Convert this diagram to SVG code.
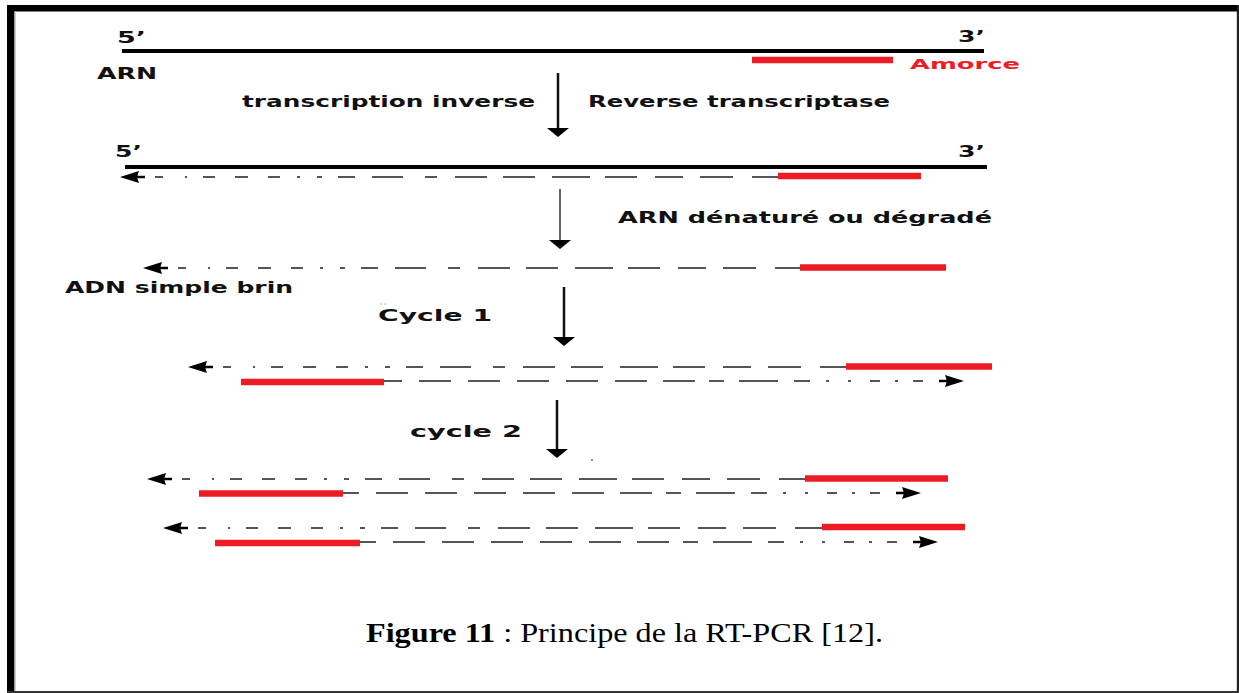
<svg xmlns="http://www.w3.org/2000/svg" width="1239" height="693" viewBox="0 0 1239 693">
  <style>
    .lbl { font-family: "DejaVu Sans", Verdana, sans-serif; font-weight: bold; font-size: 15px; fill: #111; }
    .end { font-family: "DejaVu Sans", Verdana, sans-serif; font-weight: bold; font-size: 15px; fill: #111; }
    .amorce { font-family: "DejaVu Sans", Verdana, sans-serif; font-weight: bold; font-size: 14px; fill: #ee1c24; }
    .cap { font-family: "Liberation Serif", "Times New Roman", serif; font-size: 27px; fill: #000; }
    .strand { stroke: #000; stroke-width: 4; fill: none; }
    .primer { stroke: #ed1c24; stroke-width: 6.5; fill: none; }
    .dashL { stroke: #555; stroke-width: 2; fill: none;
      stroke-dasharray: 8 22 2 16 12 20 13 20 12 17 3 17 5 16 17 17 31 22 12 18 32 16 32 17 38 15 32 18 28 17 33 19 33 17 32 17 32 17; }
    .dashR { stroke: #555; stroke-width: 2; fill: none;
      stroke-dasharray: 10 15 3 15 10 19 3 19 3 16 16 16 39 15 15 14 32 16 32 17 32 17 32 17 32 17 32 17 32 17 32 17 32 17 32 17 32 17 32 17; }
    .shaft { stroke: #111; stroke-width: 2.5; fill: none; }
    .shaftGrey { stroke: #666; stroke-width: 2; fill: none; }
  </style>
  <defs>
    <!-- arrowheads for the dashed strands, tip at origin -->
    <path id="headL" d="M0,0 L19,-6 L17,0 L19,6 Z M16,-1.2 H25 V1.2 H16 Z" fill="#000"/>
    <path id="headR" d="M0,0 L-19,-6 L-17,0 L-19,6 Z M-16,-1.2 H-25 V1.2 H-16 Z" fill="#000"/>
    <!-- arrowhead for the vertical step arrows, tip at origin -->
    <path id="headDown" d="M0,0 L-11,-9 L11,-9 Z" fill="#000"/>
  </defs>

  <!-- page frame -->
  <g id="frame">
    <rect x="0" y="0" width="1239" height="693" fill="#fff"/>
    <rect x="7" y="5" width="1232" height="6.5" fill="#000"/>
    <rect x="7" y="5" width="7.5" height="688" fill="#000"/>
    <rect x="14.5" y="11" width="1.2" height="682" fill="#bbb"/>
    <rect x="1236.8" y="5" width="2.2" height="688" fill="#222"/>
    <rect x="7" y="691" width="1232" height="2" fill="#333"/>
  </g>

  <!-- RNA template with primer -->
  <g id="arn">
    <line class="strand" x1="122" y1="51" x2="984" y2="51"/>
    <line class="primer" x1="752" y1="60" x2="893" y2="60"/>
    <text class="end" x="117" y="43" textLength="29" lengthAdjust="spacingAndGlyphs">5’</text>
    <text class="end" x="958" y="42" textLength="27" lengthAdjust="spacingAndGlyphs">3’</text>
    <text class="lbl" x="97" y="79" textLength="60" lengthAdjust="spacingAndGlyphs">ARN</text>
    <text class="amorce" x="910" y="69" textLength="110" lengthAdjust="spacingAndGlyphs">Amorce</text>
  </g>

  <g id="step-rt">
    <text class="lbl" x="242" y="107" textLength="293" lengthAdjust="spacingAndGlyphs">transcription inverse</text>
    <text class="lbl" x="588" y="107" textLength="302" lengthAdjust="spacingAndGlyphs">Reverse transcriptase</text>
  </g>

  <!-- RNA / cDNA hybrid -->
  <g id="hybride">
    <line class="strand" x1="125" y1="167" x2="987" y2="167"/>
    <text class="end" x="115" y="157" textLength="27" lengthAdjust="spacingAndGlyphs">5’</text>
    <text class="end" x="958" y="157" textLength="27" lengthAdjust="spacingAndGlyphs">3’</text>
    <line class="dashL" x1="155" y1="177" x2="778" y2="177"/>
    <use href="#headL" x="120" y="177"/>
    <line class="primer" x1="778" y1="176" x2="921" y2="176"/>
  </g>

  <g id="step-denat">
    <text class="lbl" x="618" y="223" textLength="374" lengthAdjust="spacingAndGlyphs">ARN dénaturé ou dégradé</text>
  </g>

  <!-- single-stranded cDNA -->
  <g id="adn-sb">
    <line class="dashL" x1="178" y1="268" x2="800" y2="268"/>
    <use href="#headL" x="143" y="268"/>
    <line class="primer" x1="800" y1="267.5" x2="946" y2="267.5"/>
    <text class="lbl" x="65" y="293" textLength="228" lengthAdjust="spacingAndGlyphs">ADN simple brin</text>
  </g>

  <g id="step-cycle1">
    <text class="lbl" x="378" y="321" font-size="17" textLength="114" lengthAdjust="spacingAndGlyphs">Cycle 1</text>
    <circle cx="381" cy="304" r="0.7" fill="#999"/>
    <circle cx="385" cy="304" r="0.7" fill="#999"/>
  </g>

  <!-- products after cycle 1 -->
  <g id="cycle1">
    <line class="dashL" x1="223" y1="367" x2="846" y2="367"/>
    <use href="#headL" x="188" y="367"/>
    <line class="primer" x1="846" y1="366.5" x2="992" y2="366.5"/>
    <line class="dashR" x1="923" y1="381" x2="384" y2="381"/>
    <use href="#headR" x="964" y="381"/>
    <line class="primer" x1="241" y1="382" x2="384" y2="382"/>
  </g>

  <g id="step-cycle2">
    <text class="lbl" x="410" y="437" font-size="17" textLength="112" lengthAdjust="spacingAndGlyphs">cycle 2</text>
    <circle cx="592" cy="460" r="0.9" fill="#555"/>
  </g>

  <!-- products after cycle 2 -->
  <g id="cycle2a">
    <line class="dashL" x1="182" y1="479" x2="805" y2="479"/>
    <use href="#headL" x="147" y="479"/>
    <line class="primer" x1="805" y1="478.5" x2="948" y2="478.5"/>
    <line class="dashR" x1="880" y1="493" x2="343" y2="493"/>
    <use href="#headR" x="921" y="493"/>
    <line class="primer" x1="199" y1="493.5" x2="343" y2="493.5"/>
  </g>
  <g id="cycle2b">
    <line class="dashL" x1="198" y1="528" x2="822" y2="528"/>
    <use href="#headL" x="163" y="528"/>
    <line class="primer" x1="822" y1="527" x2="965" y2="527"/>
    <line class="dashR" x1="897" y1="542" x2="360" y2="542"/>
    <use href="#headR" x="938" y="542"/>
    <line class="primer" x1="215" y1="543" x2="360" y2="543"/>
  </g>

  <!-- vertical step arrows -->
  <g id="connectors">
    <line class="shaft" x1="558" y1="73" x2="558" y2="129"/>
    <use href="#headDown" x="558" y="137"/>
    <line class="shaftGrey" x1="560" y1="189" x2="560" y2="241"/>
    <use href="#headDown" x="560" y="249"/>
    <line class="shaft" x1="564" y1="287" x2="564" y2="338"/>
    <use href="#headDown" x="564" y="346"/>
    <line class="shaft" x1="557" y1="400" x2="557" y2="450"/>
    <use href="#headDown" x="557" y="458"/>
  </g>

  <g id="caption">
    <text class="cap" x="366" y="642" textLength="517" lengthAdjust="spacingAndGlyphs"><tspan font-weight="bold">Figure 11</tspan> : Principe de la RT-PCR [12].</text>
  </g>
</svg>
